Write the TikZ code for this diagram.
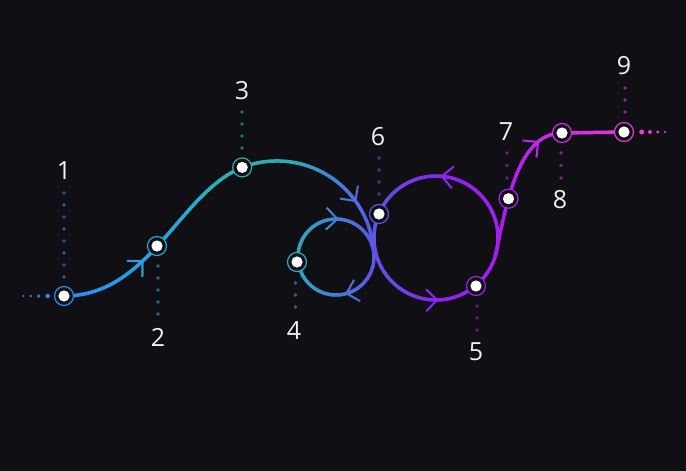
\documentclass[tikz,border=0pt]{standalone}
\usepackage{fontspec}
\setmainfont{Open Sans}
\definecolor{bg}{HTML}{0F0F14}
\definecolor{labelc}{HTML}{F2F2F2}
\definecolor{s1}{HTML}{2A84F0}
\definecolor{s2}{HTML}{2B8CF5}
\definecolor{s3}{HTML}{2CA2E0}
\definecolor{s4}{HTML}{28B4A8}
\definecolor{s5}{HTML}{2EA8BA}
\definecolor{s6}{HTML}{4282D6}
\definecolor{s7}{HTML}{5C56E4}
\definecolor{s8}{HTML}{8A24F2}
\definecolor{s9}{HTML}{A41EF0}
\definecolor{s10}{HTML}{D22CE4}
\definecolor{s11}{HTML}{E238D8}
\definecolor{s12}{HTML}{E244D4}
\newcommand\mixgc[5]{%
  \pgfmathsetmacro\gp{max(0,min(100,100*(#3-#1)/(#3-#2)))}%
  \colorlet{gc}{#4!\gp!#5}}
\newcommand\setgc[1]{%
  \ifdim #1pt<64pt \mixgc{#1}{22}{64}{s1}{s2}\else
  \ifdim #1pt<158pt \mixgc{#1}{64}{158}{s2}{s3}\else
  \ifdim #1pt<242pt \mixgc{#1}{158}{242}{s3}{s4}\else
  \ifdim #1pt<297pt \mixgc{#1}{242}{297}{s4}{s5}\else
  \ifdim #1pt<336pt \mixgc{#1}{297}{336}{s5}{s6}\else
  \ifdim #1pt<374pt \mixgc{#1}{336}{374}{s6}{s7}\else
  \ifdim #1pt<436pt \mixgc{#1}{374}{436}{s7}{s8}\else
  \ifdim #1pt<498pt \mixgc{#1}{436}{498}{s8}{s9}\else
  \ifdim #1pt<562pt \mixgc{#1}{498}{562}{s9}{s10}\else
  \ifdim #1pt<624pt \mixgc{#1}{562}{624}{s10}{s11}\else
  \mixgc{#1}{624}{670}{s11}{s12}\fi\fi\fi\fi\fi\fi\fi\fi\fi\fi}
\newcommand\chev[3]{\draw[line width=2pt, shift={(#1,#2)}, rotate=#3] (-11,-11) -- (0,0) -- (-11,11);}
\newcommand\trail{%
  \draw[line width=3.5pt] (c1) .. controls (150,296) and (179,193) .. (c3)
     arc[start angle=-111, end angle=0, radius=97];
  \draw[line width=3.5pt] (336,257) circle[radius=38];
  \draw[line width=3.5pt] (436,238) circle[radius=62];
  \draw[line width=3.5pt] (494.7,258) .. controls (505,215) and (515,133) .. (c8) -- (c9);
  \chev{142.5}{261.2}{44}
  \chev{355.5}{201}{-54}
  \chev{337.3}{219}{-2}
  \chev{346.5}{293.5}{-164}
  \chev{441.9}{176.3}{174.5}
  \chev{437.1}{300}{1}
  \chev{538}{141.9}{39.7}
  \fill (23.3,296) circle[radius=1];
  \fill (30.7,296) circle[radius=1.3];
  \fill (38.7,296) circle[radius=1.7];
  \fill (47.7,296) circle[radius=2.2];
  \fill (641.7,132) circle[radius=2.5];
  \fill (650,132) circle[radius=2];
  \fill (657.7,132) circle[radius=1.6];
  \fill (665,132) circle[radius=1.1];
}
\tikzset{
  ring/.style={circle, minimum size=19pt, inner sep=0pt, fill=bg, line width=1.2pt,
    path picture={\fill[white] (path picture bounding box.center) circle[radius=5.6pt];}},
  numlabel/.style={text=labelc, font=\fontsize{25pt}{30pt}\selectfont, inner sep=0pt},
  guide/.style={fill=gc!62!bg}
}
\begin{document}
\begin{tikzpicture}[x=1pt, y=-1pt]
\useasboundingbox (0,0) rectangle (686,471);
\fill[bg] (0,0) rectangle (686,471);
\coordinate (c1) at (64,296);
\coordinate (c2) at (157,246);
\coordinate (c3) at (242.2,167.4);
\coordinate (c4) at (297,262);
\coordinate (c5) at (476,286);
\coordinate (c6) at (379,214);
\coordinate (c7) at (508.5,198.7);
\coordinate (c8) at (562,133);
\coordinate (c9) at (624,132);
% gradient trail drawn in narrow vertical strips
\foreach \x in {14,17,...,674}{
  \pgfmathsetmacro\xm{\x+1.5}
  \setgc{\xm}
  \begin{scope}[draw=gc, fill=gc]
    \clip (\x-0.4,0) rectangle (\x+3.4,471);
    \trail
  \end{scope}
}
% dotted guides
\setgc{64}\foreach \y in {193,205,...,277} \fill[guide] (64,\y) circle[radius=1.9];
\setgc{158}\foreach \y in {266,278,...,314} \fill[guide] (158,\y) circle[radius=1.9];
\setgc{242}\foreach \y in {112,124,...,148} \fill[guide] (242,\y) circle[radius=1.9];
\setgc{295}\foreach \y in {283,295,...,307} \fill[guide] (295.5,\y) circle[radius=1.9];
\setgc{477}\foreach \y in {306,318,...,330} \fill[guide] (477,\y) circle[radius=1.9];
\setgc{379}\foreach \y in {158,170,...,194} \fill[guide] (379,\y) circle[radius=1.9];
\setgc{507}\foreach \y in {153,165.5,...,178} \fill[guide] (507,\y) circle[radius=1.9];
\setgc{561}\foreach \y in {153,165.5,...,178} \fill[guide] (561,\y) circle[radius=1.9];
\setgc{625}\foreach \y in {88,100,...,112} \fill[guide] (625,\y) circle[radius=1.9];
% markers
\setgc{64}\node[ring, draw=gc] (p1) at (c1) {};
\setgc{157}\node[ring, draw=gc] (p2) at (c2) {};
\setgc{242}\node[ring, draw=gc] (p3) at (c3) {};
\setgc{297}\node[ring, draw=gc] (p4) at (c4) {};
\setgc{476}\node[ring, draw=gc] (p5) at (c5) {};
\setgc{379}\node[ring, draw=gc] (p6) at (c6) {};
\setgc{508}\node[ring, draw=gc] (p7) at (c7) {};
\setgc{562}\node[ring, draw=gc] (p8) at (c8) {};
\setgc{624}\node[ring, draw=gc] (p9) at (c9) {};
% labels
\node[numlabel] (l1) at (64,171) {1};
\node[numlabel] (l2) at (158,337) {2};
\node[numlabel] (l3) at (242,91) {3};
\node[numlabel] (l4) at (294,331) {4};
\node[numlabel] (l5) at (476,352) {5};
\node[numlabel] (l6) at (378,137) {6};
\node[numlabel] (l7) at (506,132) {7};
\node[numlabel] (l8) at (560,200) {8};
\node[numlabel] (l9) at (624,66) {9};
\end{tikzpicture}
\end{document}
